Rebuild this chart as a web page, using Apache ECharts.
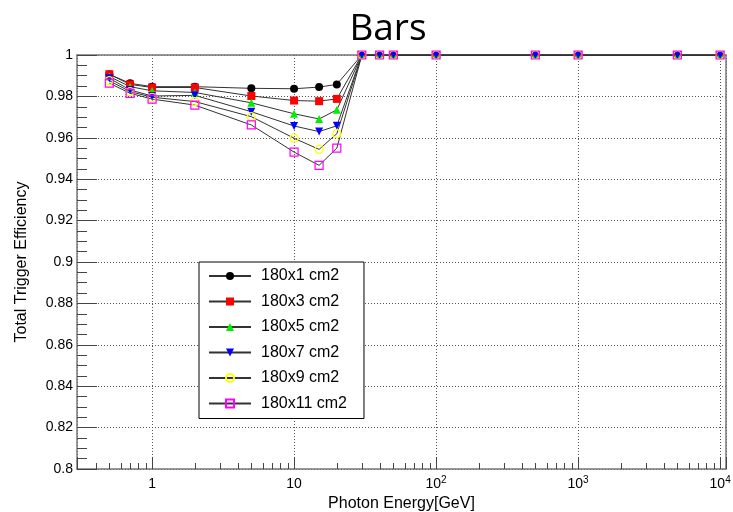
<!DOCTYPE html>
<html><head><meta charset="utf-8">
<script src="https://cdn.jsdelivr.net/npm/echarts@6/dist/echarts.min.js"></script>
<style>html,body{margin:0;padding:0;background:#fff}#chart{width:733px;height:512px}</style>
</head><body><div id="chart"></div>
<script>
// ---- data ----
const energies = [0.5, 0.7, 1, 2, 5, 10, 15, 20, 30, 40, 50, 100, 500, 1000, 5000, 10000];
const eff180x1  = [0.9907, 0.9863, 0.9847, 0.9847, 0.9839, 0.9837, 0.9845, 0.9858, 1, 1, 1, 1, 1, 1, 1, 1];
const eff180x3  = [0.9907, 0.9858, 0.9843, 0.9843, 0.9802, 0.9780, 0.9777, 0.9788, 1, 1, 1, 1, 1, 1, 1, 1];
const eff180x5  = [0.9896, 0.9847, 0.9827, 0.9819, 0.9769, 0.9716, 0.9691, 0.9735, 1, 1, 1, 1, 1, 1, 1, 1];
const eff180x7  = [0.9888, 0.9831, 0.9802, 0.9805, 0.9726, 0.9657, 0.9630, 0.9658, 1, 1, 1, 1, 1, 1, 1, 1];
const eff180x9  = [0.9876, 0.9823, 0.9796, 0.9775, 0.9702, 0.9598, 0.9544, 0.9620, 1, 1, 1, 1, 1, 1, 1, 1];
const eff180x11 = [0.9864, 0.9815, 0.9787, 0.9758, 0.9662, 0.9531, 0.9467, 0.9550, 1, 1, 1, 1, 1, 1, 1, 1];
const seriesNames = ['180x1 cm2', '180x3 cm2', '180x5 cm2', '180x7 cm2', '180x9 cm2', '180x11 cm2'];
const seriesValues = [eff180x1, eff180x3, eff180x5, eff180x7, eff180x9, eff180x11];
const xTickValues = [1, 10, 100, 1000, 10000];
const xTickBase = ['1', '10', '10', '10', '10'];
const xTickExp = ['', '', '2', '3', '4'];
const xMinorTicks = [0.4, 0.5, 0.6, 0.7, 0.8, 0.9,
  2, 3, 4, 5, 6, 7, 8, 9,
  20, 30, 40, 50, 60, 70, 80, 90,
  200, 300, 400, 500, 600, 700, 800, 900,
  2000, 3000, 4000, 5000, 6000, 7000, 8000, 9000];
const xMin = 0.296, xMax = 11000;
const yMin = 0.8, yMax = 1, yStep = 0.02;

// ---- styles ----
const markerStyles = [
  { symbol: 'circle', size: 8, rotate: 0, item: { color: '#000000' } },
  { symbol: 'rect', size: 8, rotate: 0, item: { color: '#ff0000' } },
  { symbol: 'triangle', size: 8, rotate: 0, item: { color: '#00ee00' } },
  { symbol: 'triangle', size: 8, rotate: 180, item: { color: '#0000ff' } },
  { symbol: 'circle', size: 8, rotate: 0, item: { color: 'rgba(255,255,255,0)', borderColor: '#ffff00', borderWidth: 1.2 } },
  { symbol: 'rect', size: 8, rotate: 0, item: { color: 'rgba(255,255,255,0)', borderColor: '#ff00ff', borderWidth: 1.2 } }
];
const FONT = 'Liberation Sans';

function xLabel(v) {
  for (let i = 0; i < xTickValues.length; i++) {
    if (Math.abs(Math.log10(v) - Math.log10(xTickValues[i])) < 1e-6) {
      return '{base|' + xTickBase[i] + '}' + (xTickExp[i] ? '{sup|' + xTickExp[i] + '}' : '');
    }
  }
  return '';
}

const lineSeries = seriesNames.map((name, i) => ({
  name: name,
  type: 'line',
  data: energies.map((e, j) => [e, seriesValues[i][j]]),
  symbol: markerStyles[i].symbol,
  symbolSize: markerStyles[i].size,
  symbolRotate: markerStyles[i].rotate,
  showAllSymbol: true,
  itemStyle: markerStyles[i].item,
  lineStyle: { color: '#333', width: 1 },
  emphasis: { disabled: true },
  z: 3
}));

const minorTickSeries = {
  type: 'custom',
  silent: true,
  clip: false,
  z: 4,
  data: xMinorTicks.map(v => [v, yMin]),
  renderItem: function (params, api) {
    const p = api.coord([api.value(0), api.value(1)]);
    const x = Math.round(p[0]) + 0.5;
    return { type: 'line', shape: { x1: x, y1: p[1], x2: x, y2: p[1] - 6 }, style: { stroke: '#444', lineWidth: 1 } };
  }
};

const chart = echarts.init(document.getElementById('chart'), null, { renderer: 'canvas' });
chart.setOption({
  animation: false,
  backgroundColor: '#fff',
  title: {
    text: 'Bars', left: 383, top: 6, textAlign: 'center',
    textStyle: { fontFamily: 'Open Sans', fontSize: 37, fontWeight: 'normal', color: '#000' }
  },
  grid: { left: 77, right: 7, top: 55, bottom: 43, containLabel: false, outerBoundsMode: 'none' },
  legend: {
    data: seriesNames, orient: 'vertical', left: 199, top: 262,
    itemWidth: 42, itemHeight: 10, itemGap: 9.5,
    padding: [6, 17, 7, 9],
    borderColor: '#000', borderWidth: 1, backgroundColor: '#fff',
    selectedMode: false,
    textStyle: { fontFamily: FONT, fontSize: 16, color: '#000', padding: [0, 0, 0, 5] }
  },
  xAxis: [{
    type: 'log', logBase: 10, min: xMin, max: xMax, splitNumber: 5,
    name: 'Photon Energy[GeV]', nameLocation: 'middle', nameGap: 27,
    nameTextStyle: { fontFamily: FONT, fontSize: 16, color: '#000' },
    axisLine: { show: true, onZero: false, lineStyle: { color: '#777', width: 1.5 } },
    axisTick: { show: true, inside: true, length: 12, lineStyle: { color: '#444', width: 1 } },
    minorTick: { show: false },
    axisLabel: {
      margin: 6, formatter: xLabel, showMinLabel: true, showMaxLabel: true,
      rich: {
        base: { fontFamily: FONT, fontSize: 14, lineHeight: 16, verticalAlign: 'bottom', color: '#000' },
        sup: { fontFamily: FONT, fontSize: 10, lineHeight: 10, verticalAlign: 'top', padding: [0, 0, 6, 0], color: '#000' }
      }
    },
    splitLine: { show: true, lineStyle: { color: '#555', width: 1, type: [1, 2] } }
  }, {
    type: 'log', logBase: 10, min: xMin, max: xMax, position: 'top',
    axisLine: { show: true, onZero: false, lineStyle: { color: '#777', width: 1.5 } },
    axisTick: { show: false }, axisLabel: { show: false }, splitLine: { show: false }
  }],
  yAxis: [{
    type: 'value', min: yMin, max: yMax, interval: yStep,
    name: 'Total Trigger Efficiency', nameLocation: 'middle', nameGap: 47,
    nameTextStyle: { fontFamily: FONT, fontSize: 16, color: '#000' },
    axisLine: { show: true, onZero: false, lineStyle: { color: '#777', width: 1.5 } },
    axisTick: { show: true, inside: true, length: 20, lineStyle: { color: '#444', width: 1 } },
    minorTick: { show: true, splitNumber: 4, length: 10, lineStyle: { color: '#444', width: 1 } },
    axisLabel: { margin: 4, fontFamily: FONT, fontSize: 14, color: '#000' },
    splitLine: { show: true, lineStyle: { color: '#555', width: 1, type: [1, 2] } }
  }, {
    type: 'value', min: yMin, max: yMax, position: 'right',
    axisLine: { show: true, onZero: false, lineStyle: { color: '#777', width: 1.5 } },
    axisTick: { show: false }, axisLabel: { show: false }, splitLine: { show: false }
  }],
  series: lineSeries.concat([minorTickSeries])
});
</script>
</body></html>
